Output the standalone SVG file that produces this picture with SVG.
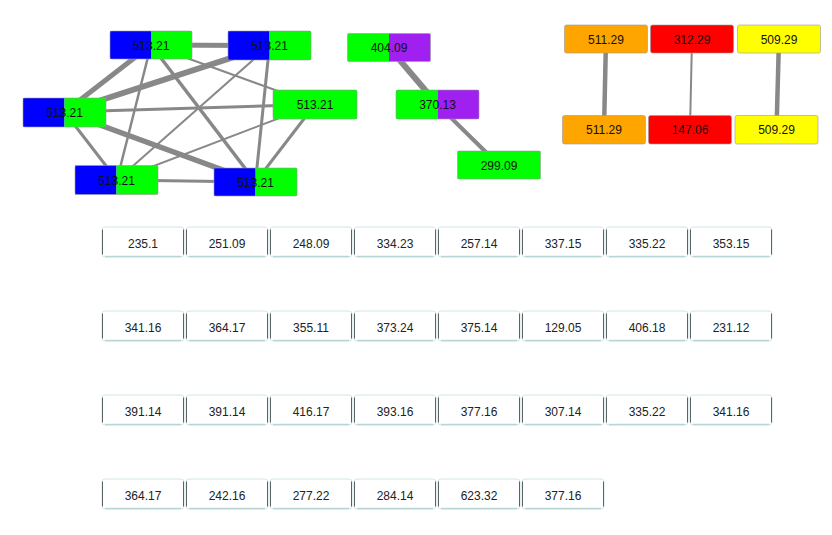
<svg xmlns="http://www.w3.org/2000/svg" width="832" height="535" viewBox="0 0 832 535">
<style>
text{font-family:"Liberation Sans",Arial,sans-serif;fill:#111;text-anchor:middle}
.nt{font-size:12px}
.gt{font-size:12px;fill:#222}
.nb{stroke:#999;stroke-opacity:.6;stroke-width:1;fill:none}
.e{stroke:#888;fill:none;stroke-linecap:butt}
.cell{fill:#fff;stroke:#d4e6e6;stroke-width:1}
.side{stroke:#5a6466;stroke-width:1}
.bot{stroke:#b9d6d6;stroke-width:1.5}
</style>
<defs>
<g id="cellbox">
<rect class="cell" x="0" y="0" width="82" height="30" rx="3"/>
<line class="side" x1="0.5" y1="2.5" x2="0.5" y2="27.5"/>
<line class="side" x1="81.5" y1="2.5" x2="81.5" y2="27.5"/>
<line class="bot" x1="3" y1="29.5" x2="79" y2="29.5"/>
</g>
</defs>
<rect width="832" height="535" fill="#fff"/>
<g id="connectors">
<line class="e" x1="151" y1="45" x2="269.5" y2="45.5" stroke-width="5"/>
<line class="e" x1="151" y1="45" x2="64.5" y2="112" stroke-width="5"/>
<line class="e" x1="151" y1="45" x2="315" y2="104.5" stroke-width="2"/>
<line class="e" x1="151" y1="45" x2="117" y2="180" stroke-width="2.5"/>
<line class="e" x1="151" y1="45" x2="255.5" y2="182" stroke-width="3.5"/>
<line class="e" x1="269.5" y1="45.5" x2="64.5" y2="112" stroke-width="6"/>
<line class="e" x1="269.5" y1="45.5" x2="117" y2="180" stroke-width="2"/>
<line class="e" x1="269.5" y1="45.5" x2="255.5" y2="182" stroke-width="3"/>
<line class="e" x1="64.5" y1="112" x2="315" y2="104.5" stroke-width="3"/>
<line class="e" x1="64.5" y1="112" x2="117" y2="180" stroke-width="3"/>
<line class="e" x1="64.5" y1="112" x2="255.5" y2="182" stroke-width="5.5"/>
<line class="e" x1="315" y1="104.5" x2="117" y2="180" stroke-width="2"/>
<line class="e" x1="315" y1="104.5" x2="255.5" y2="182" stroke-width="3"/>
<line class="e" x1="117" y1="180" x2="255.5" y2="182" stroke-width="3"/>
<line class="e" x1="389" y1="47.5" x2="437.5" y2="104.5" stroke-width="6"/>
<line class="e" x1="437.5" y1="104.5" x2="499" y2="165" stroke-width="4"/>
<line class="e" x1="606" y1="39" x2="604" y2="129.5" stroke-width="4.5"/>
<line class="e" x1="692" y1="39" x2="690" y2="129.5" stroke-width="2"/>
<line class="e" x1="779" y1="39" x2="776.5" y2="129.5" stroke-width="4.5"/>
</g>
<g id="nA">
<rect x="110" y="31" width="41" height="28" fill="#0000ff"/>
<rect x="151" y="31" width="41" height="28" fill="#00ff00"/>
<rect class="nb" x="110" y="31" width="82" height="28" rx="2"/>
<text class="nt" x="151" y="49.5">513.21</text>
</g>
<g id="nB">
<rect x="228" y="31" width="41.5" height="29" fill="#0000ff"/>
<rect x="269.5" y="31" width="41.5" height="29" fill="#00ff00"/>
<rect class="nb" x="228" y="31" width="83" height="29" rx="2"/>
<text class="nt" x="269.5" y="50">513.21</text>
</g>
<g id="nC">
<rect x="23" y="98" width="41.5" height="29" fill="#0000ff"/>
<rect x="64.5" y="98" width="41.5" height="29" fill="#00ff00"/>
<rect class="nb" x="23" y="98" width="83" height="29" rx="2"/>
<text class="nt" x="64.5" y="117">513.21</text>
</g>
<g id="nD">
<rect x="273" y="90" width="84" height="29" fill="#00ff00"/>
<rect class="nb" x="273" y="90" width="84" height="29" rx="2"/>
<text class="nt" x="315" y="109">513.21</text>
</g>
<g id="nE">
<rect x="75" y="165.5" width="41.5" height="29" fill="#0000ff"/>
<rect x="116.5" y="165.5" width="41.5" height="29" fill="#00ff00"/>
<rect class="nb" x="75" y="165.5" width="83" height="29" rx="2"/>
<text class="nt" x="116.5" y="184.5">513.21</text>
</g>
<g id="nF">
<rect x="214" y="168" width="41.5" height="28" fill="#0000ff"/>
<rect x="255.5" y="168" width="41.5" height="28" fill="#00ff00"/>
<rect class="nb" x="214" y="168" width="83" height="28" rx="2"/>
<text class="nt" x="255.5" y="186.5">513.21</text>
</g>
<g id="nG">
<rect x="347.5" y="33.5" width="41.5" height="28" fill="#00ff00"/>
<rect x="389" y="33.5" width="41.5" height="28" fill="#a020f0"/>
<rect class="nb" x="347.5" y="33.5" width="83" height="28" rx="2"/>
<text class="nt" x="389" y="52">404.09</text>
</g>
<g id="nH">
<rect x="396" y="90" width="41.5" height="29" fill="#00ff00"/>
<rect x="437.5" y="90" width="41.5" height="29" fill="#a020f0"/>
<rect class="nb" x="396" y="90" width="83" height="29" rx="2"/>
<text class="nt" x="437.5" y="109">370.13</text>
</g>
<g id="nI">
<rect x="457.5" y="151" width="83" height="28" fill="#00ff00"/>
<rect class="nb" x="457.5" y="151" width="83" height="28" rx="2"/>
<text class="nt" x="499" y="169.5">299.09</text>
</g>
<g id="nJ">
<rect x="564.5" y="25" width="83" height="28" rx="2" fill="#ffa500"/>
<rect class="nb" x="564.5" y="25" width="83" height="28" rx="2"/>
<text class="nt" x="606" y="43.5">511.29</text>
</g>
<g id="nK">
<rect x="650.5" y="25" width="83" height="28" rx="2" fill="#ff0000"/>
<rect class="nb" x="650.5" y="25" width="83" height="28" rx="2"/>
<text class="nt" x="692" y="43.5">312.29</text>
</g>
<g id="nL">
<rect x="737.5" y="25" width="83" height="28" rx="2" fill="#ffff00"/>
<rect class="nb" x="737.5" y="25" width="83" height="28" rx="2"/>
<text class="nt" x="779" y="43.5">509.29</text>
</g>
<g id="nM">
<rect x="562.5" y="115.5" width="83" height="28.5" rx="2" fill="#ffa500"/>
<rect class="nb" x="562.5" y="115.5" width="83" height="28.5" rx="2"/>
<text class="nt" x="604" y="134">511.29</text>
</g>
<g id="nN">
<rect x="648.5" y="115.5" width="83" height="28.5" rx="2" fill="#ff0000"/>
<rect class="nb" x="648.5" y="115.5" width="83" height="28.5" rx="2"/>
<text class="nt" x="690" y="134">147.06</text>
</g>
<g id="nO">
<rect x="735" y="115.5" width="83" height="28.5" rx="2" fill="#ffff00"/>
<rect class="nb" x="735" y="115.5" width="83" height="28.5" rx="2"/>
<text class="nt" x="776.5" y="134">509.29</text>
</g>
<g id="grid">
<use href="#cellbox" x="102" y="227"/><use href="#cellbox" x="186" y="227"/><use href="#cellbox" x="270" y="227"/><use href="#cellbox" x="354" y="227"/><use href="#cellbox" x="438" y="227"/><use href="#cellbox" x="522" y="227"/><use href="#cellbox" x="606" y="227"/><use href="#cellbox" x="690" y="227"/>
<use href="#cellbox" x="102" y="311"/><use href="#cellbox" x="186" y="311"/><use href="#cellbox" x="270" y="311"/><use href="#cellbox" x="354" y="311"/><use href="#cellbox" x="438" y="311"/><use href="#cellbox" x="522" y="311"/><use href="#cellbox" x="606" y="311"/><use href="#cellbox" x="690" y="311"/>
<use href="#cellbox" x="102" y="395"/><use href="#cellbox" x="186" y="395"/><use href="#cellbox" x="270" y="395"/><use href="#cellbox" x="354" y="395"/><use href="#cellbox" x="438" y="395"/><use href="#cellbox" x="522" y="395"/><use href="#cellbox" x="606" y="395"/><use href="#cellbox" x="690" y="395"/>
<use href="#cellbox" x="102" y="479"/><use href="#cellbox" x="186" y="479"/><use href="#cellbox" x="270" y="479"/><use href="#cellbox" x="354" y="479"/><use href="#cellbox" x="438" y="479"/><use href="#cellbox" x="522" y="479"/>
<text class="gt" x="143" y="248">235.1</text><text class="gt" x="227" y="248">251.09</text><text class="gt" x="311" y="248">248.09</text><text class="gt" x="395" y="248">334.23</text><text class="gt" x="479" y="248">257.14</text><text class="gt" x="563" y="248">337.15</text><text class="gt" x="647" y="248">335.22</text><text class="gt" x="731" y="248">353.15</text>
<text class="gt" x="143" y="332">341.16</text><text class="gt" x="227" y="332">364.17</text><text class="gt" x="311" y="332">355.11</text><text class="gt" x="395" y="332">373.24</text><text class="gt" x="479" y="332">375.14</text><text class="gt" x="563" y="332">129.05</text><text class="gt" x="647" y="332">406.18</text><text class="gt" x="731" y="332">231.12</text>
<text class="gt" x="143" y="416">391.14</text><text class="gt" x="227" y="416">391.14</text><text class="gt" x="311" y="416">416.17</text><text class="gt" x="395" y="416">393.16</text><text class="gt" x="479" y="416">377.16</text><text class="gt" x="563" y="416">307.14</text><text class="gt" x="647" y="416">335.22</text><text class="gt" x="731" y="416">341.16</text>
<text class="gt" x="143" y="500">364.17</text><text class="gt" x="227" y="500">242.16</text><text class="gt" x="311" y="500">277.22</text><text class="gt" x="395" y="500">284.14</text><text class="gt" x="479" y="500">623.32</text><text class="gt" x="563" y="500">377.16</text>
</g>
</svg>
